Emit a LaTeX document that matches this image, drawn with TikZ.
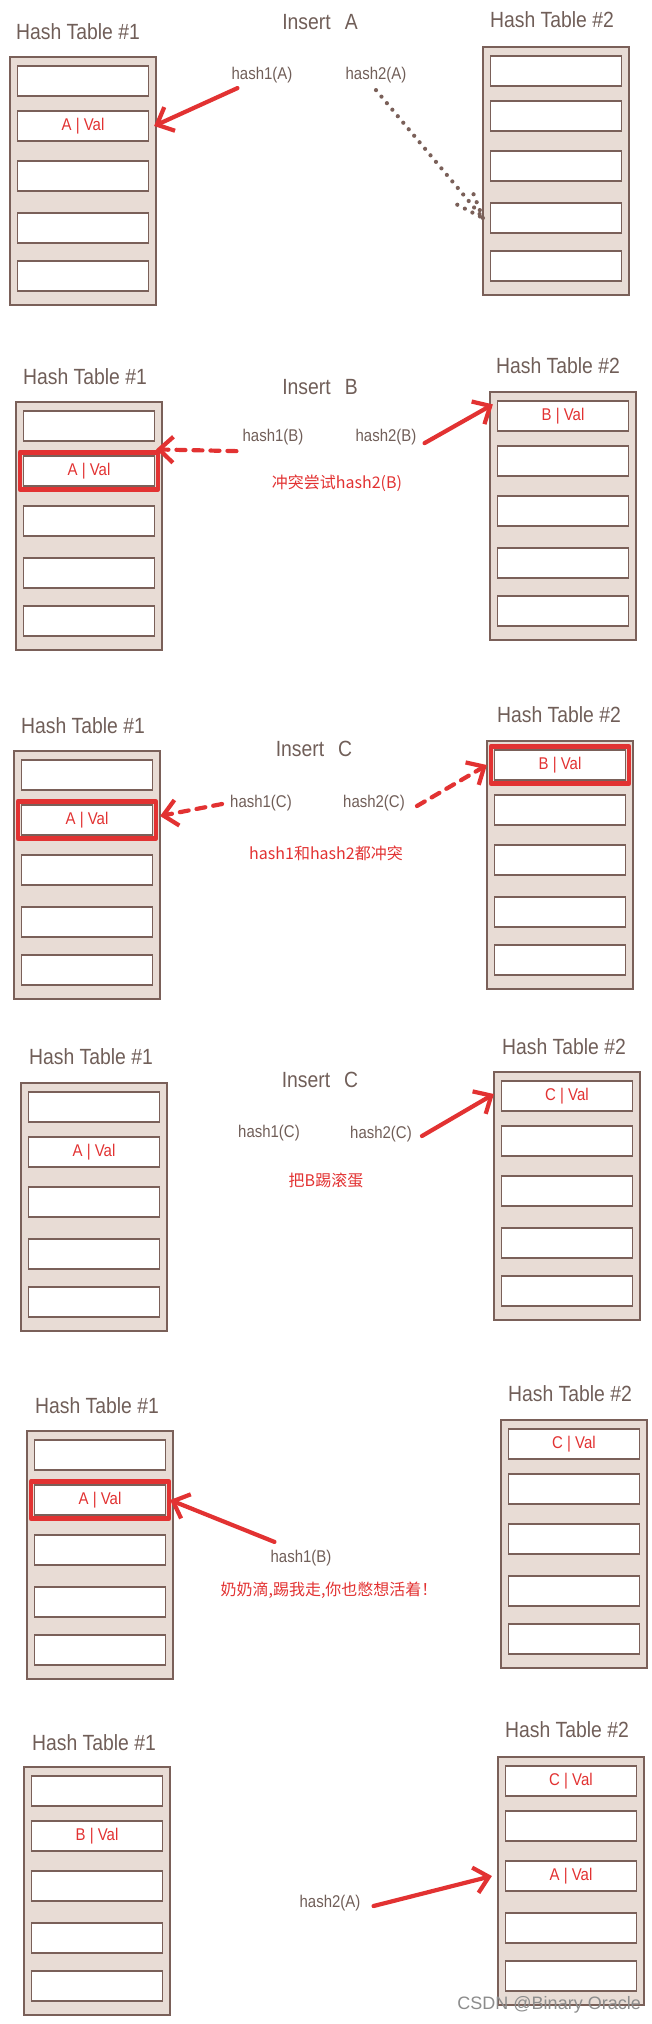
\documentclass[tikz,border=0pt]{standalone}
\usepackage{fontspec}
\setmainfont{Liberation Sans}[FakeStretch=0.88]
\newfontfamily\cjk{Noto Sans CJK SC}
\newfontfamily\wmfont{Liberation Sans}
\usetikzlibrary{arrows.meta}
\definecolor{htbrown}{RGB}{122,96,89}
\definecolor{htfill}{RGB}{232,220,213}
\definecolor{httext}{RGB}{112,94,88}
\definecolor{htred}{RGB}{226,50,50}
\definecolor{wmgray}{RGB}{140,140,140}

% one table with its five slots
\newcommand{\hashtab}[3]{%
  \node[tablebox] (#1) at (#2,#3+124) {};
  \foreach \i/\dy in {1/24,2/69,3/119,4/171,5/219}
    \node[slotbox] (#1\i) at (#2,#3+\dy) {};
}

\begin{document}
\begin{tikzpicture}
  [x=1pt,y=-1pt,
   tablebox/.style={rectangle,draw=htbrown,fill=htfill,line width=1.6pt,minimum width=146pt,minimum height=248pt,inner sep=0pt},
   slotbox/.style={rectangle,draw=htbrown,fill=white,line width=1.2pt,minimum width=131pt,minimum height=30pt,inner sep=0pt},
   httitle/.style={text=httext,font=\fontsize{22}{24}\selectfont,inner sep=0pt},
   hashlabel/.style={text=httext,font=\fontsize{17}{19}\selectfont,inner sep=0pt},
   val/.style={text=htred,font=\fontsize{17}{19}\selectfont,inner sep=0pt},
   note/.style={text=htred,font=\cjk\fontsize{16}{18}\selectfont,inner sep=0pt},
   hit/.style={draw=htred,line width=4.5pt,line join=round},
   redarrow/.style={draw=htred,line width=4.2pt,line cap=round,-{Straight Barb[length=14pt,width=26pt]}},
   dasharrow/.style={redarrow,dash pattern=on 9pt off 8pt},
   dotline/.style={draw=htbrown,line width=4.2pt,line cap=round,dash pattern=on 0pt off 8.5pt},
   wmark/.style={text=wmgray,font=\wmfont\fontsize{18}{20}\selectfont,anchor=east,inner sep=0pt}]

  \useasboundingbox (0,0) rectangle (652,2024);

  % Insert A
  \hashtab{p1l}{83}{57}
  \hashtab{p1r}{556}{47}
  \node[httitle] (p1lt) at (78,32) {Hash Table \#1};
  \node[httitle] (p1rt) at (552,20) {Hash Table \#2};
  \node[httitle] (p1ins) at (320,22) {Insert\hspace{14pt}A};
  \node[hashlabel] (p1h1) at (262,75) {hash1(A)};
  \node[hashlabel] (p1h2) at (376,75) {hash2(A)};
  \node[val] (p1v1) at (p1l2) {A | Val};
  \draw[redarrow] ([shift={(6,5)}]p1h1.south west) -- ([xshift=5pt]p1l2.east);
  \coordinate (p1tip) at ([xshift=-7pt]p1r4.west);
  \draw[dotline] ([yshift=-7pt]p1h2.south) -- (p1tip) -- ++(-27,-14) (p1tip) -- ++(-11,-28);

  % Insert B
  \hashtab{p2l}{89}{402}
  \hashtab{p2r}{563}{392}
  \node[httitle] (p2lt) at (85,377) {Hash Table \#1};
  \node[httitle] (p2rt) at (558,366) {Hash Table \#2};
  \node[httitle] (p2ins) at (320,387) {Insert\hspace{14pt}B};
  \node[hashlabel] (p2h1) at (273,437) {hash1(B)};
  \node[hashlabel] (p2h2) at (386,437) {hash2(B)};
  \node[val] (p2v1) at (p2l2) {A | Val};
  \node[val] (p2v2) at (p2r1) {B | Val};
  \draw[hit] ([shift={(-3,3)}]p2l2.south west) rectangle ([shift={(3,-3)}]p2l2.north east);
  \node[note] (p2n) at (337,483) {冲突尝试hash2(B)};
  \draw[dasharrow] ([shift={(-6,6)}]p2h1.south west) -- ([shift={(1,-6)}]p2l2.north east);
  \draw[redarrow] ([shift={(8,-2)}]p2h2.south east) -- ([shift={(-4,4)}]p2r1.north west);

  % Insert C
  \hashtab{p3l}{87}{751}
  \hashtab{p3r}{560}{741}
  \node[httitle] (p3lt) at (83,726) {Hash Table \#1};
  \node[httitle] (p3rt) at (559,715) {Hash Table \#2};
  \node[httitle] (p3ins) at (314,749) {Insert\hspace{14pt}C};
  \node[hashlabel] (p3h1) at (261,803) {hash1(C)};
  \node[hashlabel] (p3h2) at (374,803) {hash2(C)};
  \node[val] (p3v1) at (p3l2) {A | Val};
  \node[val] (p3v2) at (p3r1) {B | Val};
  \draw[hit] ([shift={(-3,3)}]p3l2.south west) rectangle ([shift={(3,-3)}]p3l2.north east);
  \draw[hit] ([shift={(-3,3)}]p3r1.south west) rectangle ([shift={(3,-3)}]p3r1.north east);
  \node[note] (p3n) at (326,853) {hash1和hash2都冲突};
  \draw[dasharrow] ([shift={(-8,1)}]p3h1.west) -- ([shift={(7,-4)}]p3l2.east);
  \draw[dasharrow] ([shift={(12,3)}]p3h2.east) -- ([xshift=-7pt]p3r1.west);

  % Insert C, B goes
  \hashtab{p4l}{94}{1083}
  \hashtab{p4r}{567}{1072}
  \node[httitle] (p4lt) at (91,1057) {Hash Table \#1};
  \node[httitle] (p4rt) at (564,1047) {Hash Table \#2};
  \node[httitle] (p4ins) at (320,1080) {Insert\hspace{14pt}C};
  \node[hashlabel] (p4h1) at (269,1133) {hash1(C)};
  \node[hashlabel] (p4h2) at (381,1134) {hash2(C)};
  \node[val] (p4v1) at (p4l2) {A | Val};
  \node[val] (p4v2) at (p4r1) {C | Val};
  \node[note] (p4n) at (326,1180) {把B踢滚蛋};
  \draw[redarrow] ([shift={(10,2)}]p4h2.east) -- ([shift={(-7,-2)}]p4r1.west);

  % B kicks A
  \hashtab{p5l}{100}{1431}
  \hashtab{p5r}{574}{1420}
  \node[httitle] (p5lt) at (97,1406) {Hash Table \#1};
  \node[httitle] (p5rt) at (570,1394) {Hash Table \#2};
  \node[hashlabel] (p5h1) at (301,1558) {hash1(B)};
  \node[val] (p5v1) at (p5l2) {A | Val};
  \node[val] (p5v2) at (p5r1) {C | Val};
  \draw[hit] ([shift={(-3,3)}]p5l2.south west) rectangle ([shift={(3,-3)}]p5l2.north east);
  \node[note] (p5n) at (329,1590) {奶奶滴,踢我走,你也憋想活着！};
  \draw[redarrow] ([shift={(4,-8)}]p5h1.north west) -- ([xshift=4pt]p5l2.east);

  % A moves over
  \hashtab{p6l}{97}{1767}
  \hashtab{p6r}{571}{1757}
  \node[httitle] (p6lt) at (94,1743) {Hash Table \#1};
  \node[httitle] (p6rt) at (567,1730) {Hash Table \#2};
  \node[hashlabel] (p6h2) at (330,1903) {hash2(A)};
  \node[val] (p6v1) at (p6l2) {B | Val};
  \node[val] (p6v2) at (p6r1) {C | Val};
  \node[val] (p6v3) at (p6r3) {A | Val};
  \draw[redarrow] ([shift={(13,3)}]p6h2.east) -- ([xshift=-13pt]p6r3.west);
  \node[wmark] (wm) at (641,2005) {CSDN @Binary Oracle};
\end{tikzpicture}
\end{document}
